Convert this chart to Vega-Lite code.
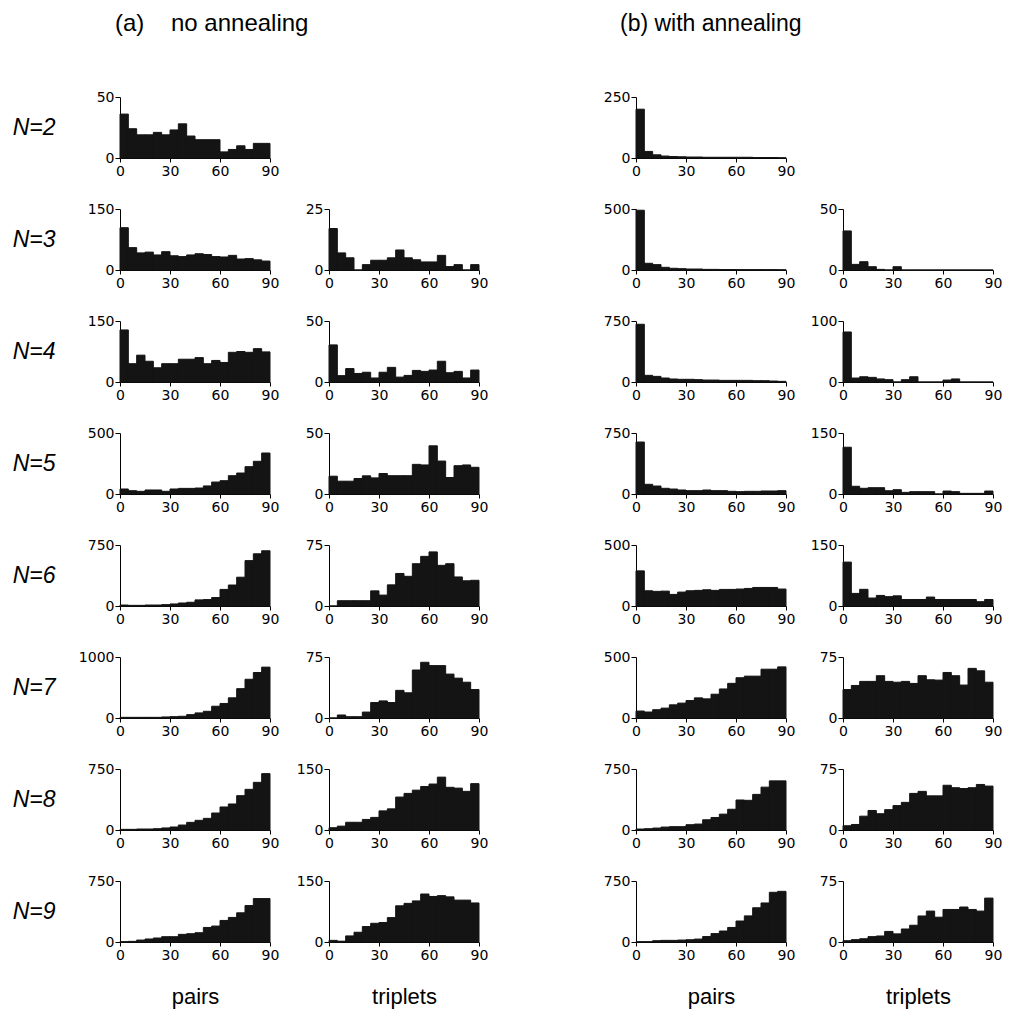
{
"$schema":"https://vega.github.io/schema/vega-lite/v6.json",
"padding":{"left":12,"top":12,"right":5,"bottom":5},
"background":"white",
"spacing":115,
"data":{"name":"h"},
"config":{
 "view":{"stroke":null},
 "axis":{"grid":false,"domainColor":"#000","tickColor":"#000","labelColor":"#000","titleColor":"#000","domainWidth":1,"tickWidth":1,"labelFont":"DejaVu Sans","labelFontSize":14,"labelFlush":false,"labelBound":false,"labelOverlap":false,"format":"d"},
 "axisX":{"tickSize":4,"labelPadding":2,"titleFont":"Liberation Sans","titleFontSize":22,"titleFontWeight":"normal","titlePadding":24},
 "axisY":{"tickSize":5,"labelPadding":1,"titleAngle":0,"titleX":-65,"titleY":30,"titleAlign":"right","titleBaseline":"middle","titleFont":"Liberation Sans","titleFontSize":23,"titleFontStyle":"italic","titleFontWeight":"normal"},
 "title":{"font":"Liberation Sans","fontSize":23,"fontWeight":"normal","anchor":"start","color":"#000","offset":54,"frame":"group"}
},
"datasets":{"h":[
{"p":"a2p","lo":0,"hi":5,"c":36},{"p":"a2p","lo":5,"hi":10,"c":24},{"p":"a2p","lo":10,"hi":15,"c":19},{"p":"a2p","lo":15,"hi":20,"c":19},{"p":"a2p","lo":20,"hi":25,"c":21},{"p":"a2p","lo":25,"hi":30,"c":19},{"p":"a2p","lo":30,"hi":35,"c":23},{"p":"a2p","lo":35,"hi":40,"c":28},{"p":"a2p","lo":40,"hi":45,"c":18},{"p":"a2p","lo":45,"hi":50,"c":15},{"p":"a2p","lo":50,"hi":55,"c":15},{"p":"a2p","lo":55,"hi":60,"c":15},{"p":"a2p","lo":60,"hi":65,"c":5},{"p":"a2p","lo":65,"hi":70,"c":7},{"p":"a2p","lo":70,"hi":75,"c":10},{"p":"a2p","lo":75,"hi":80,"c":7},{"p":"a2p","lo":80,"hi":85,"c":12},{"p":"a2p","lo":85,"hi":90,"c":12},
{"p":"a3p","lo":0,"hi":5,"c":104},{"p":"a3p","lo":5,"hi":10,"c":55},{"p":"a3p","lo":10,"hi":15,"c":42},{"p":"a3p","lo":15,"hi":20,"c":44},{"p":"a3p","lo":20,"hi":25,"c":37},{"p":"a3p","lo":25,"hi":30,"c":45},{"p":"a3p","lo":30,"hi":35,"c":35},{"p":"a3p","lo":35,"hi":40,"c":33},{"p":"a3p","lo":40,"hi":45,"c":37},{"p":"a3p","lo":45,"hi":50,"c":40},{"p":"a3p","lo":50,"hi":55,"c":38},{"p":"a3p","lo":55,"hi":60,"c":33},{"p":"a3p","lo":60,"hi":65,"c":32},{"p":"a3p","lo":65,"hi":70,"c":36},{"p":"a3p","lo":70,"hi":75,"c":27},{"p":"a3p","lo":75,"hi":80,"c":28},{"p":"a3p","lo":80,"hi":85,"c":25},{"p":"a3p","lo":85,"hi":90,"c":22},
{"p":"a4p","lo":0,"hi":5,"c":128},{"p":"a4p","lo":5,"hi":10,"c":45},{"p":"a4p","lo":10,"hi":15,"c":66},{"p":"a4p","lo":15,"hi":20,"c":51},{"p":"a4p","lo":20,"hi":25,"c":35},{"p":"a4p","lo":25,"hi":30,"c":45},{"p":"a4p","lo":30,"hi":35,"c":45},{"p":"a4p","lo":35,"hi":40,"c":56},{"p":"a4p","lo":40,"hi":45,"c":56},{"p":"a4p","lo":45,"hi":50,"c":60},{"p":"a4p","lo":50,"hi":55,"c":45},{"p":"a4p","lo":55,"hi":60,"c":53},{"p":"a4p","lo":60,"hi":65,"c":48},{"p":"a4p","lo":65,"hi":70,"c":73},{"p":"a4p","lo":70,"hi":75,"c":75},{"p":"a4p","lo":75,"hi":80,"c":73},{"p":"a4p","lo":80,"hi":85,"c":82},{"p":"a4p","lo":85,"hi":90,"c":74},
{"p":"a5p","lo":0,"hi":5,"c":41},{"p":"a5p","lo":5,"hi":10,"c":27},{"p":"a5p","lo":10,"hi":15,"c":22},{"p":"a5p","lo":15,"hi":20,"c":33},{"p":"a5p","lo":20,"hi":25,"c":33},{"p":"a5p","lo":25,"hi":30,"c":22},{"p":"a5p","lo":30,"hi":35,"c":41},{"p":"a5p","lo":35,"hi":40,"c":46},{"p":"a5p","lo":40,"hi":45,"c":46},{"p":"a5p","lo":45,"hi":50,"c":49},{"p":"a5p","lo":50,"hi":55,"c":66},{"p":"a5p","lo":55,"hi":60,"c":98},{"p":"a5p","lo":60,"hi":65,"c":109},{"p":"a5p","lo":65,"hi":70,"c":150},{"p":"a5p","lo":70,"hi":75,"c":172},{"p":"a5p","lo":75,"hi":80,"c":224},{"p":"a5p","lo":80,"hi":85,"c":268},{"p":"a5p","lo":85,"hi":90,"c":336},
{"p":"a6p","lo":0,"hi":5,"c":12},{"p":"a6p","lo":5,"hi":10,"c":8},{"p":"a6p","lo":10,"hi":15,"c":8},{"p":"a6p","lo":15,"hi":20,"c":12},{"p":"a6p","lo":20,"hi":25,"c":12},{"p":"a6p","lo":25,"hi":30,"c":17},{"p":"a6p","lo":30,"hi":35,"c":25},{"p":"a6p","lo":35,"hi":40,"c":37},{"p":"a6p","lo":40,"hi":45,"c":46},{"p":"a6p","lo":45,"hi":50,"c":75},{"p":"a6p","lo":50,"hi":55,"c":79},{"p":"a6p","lo":55,"hi":60,"c":104},{"p":"a6p","lo":60,"hi":65,"c":204},{"p":"a6p","lo":65,"hi":70,"c":258},{"p":"a6p","lo":70,"hi":75,"c":354},{"p":"a6p","lo":75,"hi":80,"c":558},{"p":"a6p","lo":80,"hi":85,"c":642},{"p":"a6p","lo":85,"hi":90,"c":679},
{"p":"a7p","lo":0,"hi":5,"c":11},{"p":"a7p","lo":5,"hi":10,"c":11},{"p":"a7p","lo":10,"hi":15,"c":11},{"p":"a7p","lo":15,"hi":20,"c":11},{"p":"a7p","lo":20,"hi":25,"c":11},{"p":"a7p","lo":25,"hi":30,"c":17},{"p":"a7p","lo":30,"hi":35,"c":22},{"p":"a7p","lo":35,"hi":40,"c":28},{"p":"a7p","lo":40,"hi":45,"c":55},{"p":"a7p","lo":45,"hi":50,"c":83},{"p":"a7p","lo":50,"hi":55,"c":110},{"p":"a7p","lo":55,"hi":60,"c":193},{"p":"a7p","lo":60,"hi":65,"c":238},{"p":"a7p","lo":65,"hi":70,"c":331},{"p":"a7p","lo":70,"hi":75,"c":481},{"p":"a7p","lo":75,"hi":80,"c":635},{"p":"a7p","lo":80,"hi":85,"c":746},{"p":"a7p","lo":85,"hi":90,"c":834},
{"p":"a8p","lo":0,"hi":5,"c":8},{"p":"a8p","lo":5,"hi":10,"c":8},{"p":"a8p","lo":10,"hi":15,"c":12},{"p":"a8p","lo":15,"hi":20,"c":12},{"p":"a8p","lo":20,"hi":25,"c":16},{"p":"a8p","lo":25,"hi":30,"c":25},{"p":"a8p","lo":30,"hi":35,"c":37},{"p":"a8p","lo":35,"hi":40,"c":61},{"p":"a8p","lo":40,"hi":45,"c":94},{"p":"a8p","lo":45,"hi":50,"c":119},{"p":"a8p","lo":50,"hi":55,"c":143},{"p":"a8p","lo":55,"hi":60,"c":209},{"p":"a8p","lo":60,"hi":65,"c":283},{"p":"a8p","lo":65,"hi":70,"c":320},{"p":"a8p","lo":70,"hi":75,"c":422},{"p":"a8p","lo":75,"hi":80,"c":500},{"p":"a8p","lo":80,"hi":85,"c":586},{"p":"a8p","lo":85,"hi":90,"c":693},
{"p":"a9p","lo":0,"hi":5,"c":4},{"p":"a9p","lo":5,"hi":10,"c":8},{"p":"a9p","lo":10,"hi":15,"c":24},{"p":"a9p","lo":15,"hi":20,"c":37},{"p":"a9p","lo":20,"hi":25,"c":49},{"p":"a9p","lo":25,"hi":30,"c":65},{"p":"a9p","lo":30,"hi":35,"c":65},{"p":"a9p","lo":35,"hi":40,"c":94},{"p":"a9p","lo":40,"hi":45,"c":102},{"p":"a9p","lo":45,"hi":50,"c":114},{"p":"a9p","lo":50,"hi":55,"c":179},{"p":"a9p","lo":55,"hi":60,"c":196},{"p":"a9p","lo":60,"hi":65,"c":265},{"p":"a9p","lo":65,"hi":70,"c":302},{"p":"a9p","lo":70,"hi":75,"c":359},{"p":"a9p","lo":75,"hi":80,"c":448},{"p":"a9p","lo":80,"hi":85,"c":534},{"p":"a9p","lo":85,"hi":90,"c":534},
{"p":"a3t","lo":0,"hi":5,"c":17},{"p":"a3t","lo":5,"hi":10,"c":7},{"p":"a3t","lo":10,"hi":15,"c":5},{"p":"a3t","lo":15,"hi":20,"c":0},{"p":"a3t","lo":20,"hi":25,"c":2.2},{"p":"a3t","lo":25,"hi":30,"c":4},{"p":"a3t","lo":30,"hi":35,"c":4},{"p":"a3t","lo":35,"hi":40,"c":5},{"p":"a3t","lo":40,"hi":45,"c":8.2},{"p":"a3t","lo":45,"hi":50,"c":5},{"p":"a3t","lo":50,"hi":55,"c":4.2},{"p":"a3t","lo":55,"hi":60,"c":3.3},{"p":"a3t","lo":60,"hi":65,"c":3.3},{"p":"a3t","lo":65,"hi":70,"c":6},{"p":"a3t","lo":70,"hi":75,"c":1.4},{"p":"a3t","lo":75,"hi":80,"c":2.2},{"p":"a3t","lo":80,"hi":85,"c":0},{"p":"a3t","lo":85,"hi":90,"c":2.2},
{"p":"a4t","lo":0,"hi":5,"c":30.4},{"p":"a4t","lo":5,"hi":10,"c":5.2},{"p":"a4t","lo":10,"hi":15,"c":11},{"p":"a4t","lo":15,"hi":20,"c":7},{"p":"a4t","lo":20,"hi":25,"c":8},{"p":"a4t","lo":25,"hi":30,"c":3.3},{"p":"a4t","lo":30,"hi":35,"c":8},{"p":"a4t","lo":35,"hi":40,"c":12},{"p":"a4t","lo":40,"hi":45,"c":4},{"p":"a4t","lo":45,"hi":50,"c":5.4},{"p":"a4t","lo":50,"hi":55,"c":9.5},{"p":"a4t","lo":55,"hi":60,"c":8.7},{"p":"a4t","lo":60,"hi":65,"c":9.8},{"p":"a4t","lo":65,"hi":70,"c":17},{"p":"a4t","lo":70,"hi":75,"c":7.6},{"p":"a4t","lo":75,"hi":80,"c":8.7},{"p":"a4t","lo":80,"hi":85,"c":3.3},{"p":"a4t","lo":85,"hi":90,"c":9.8},
{"p":"a5t","lo":0,"hi":5,"c":14.6},{"p":"a5t","lo":5,"hi":10,"c":10.5},{"p":"a5t","lo":10,"hi":15,"c":10.5},{"p":"a5t","lo":15,"hi":20,"c":12.7},{"p":"a5t","lo":20,"hi":25,"c":14.9},{"p":"a5t","lo":25,"hi":30,"c":13.2},{"p":"a5t","lo":30,"hi":35,"c":16.8},{"p":"a5t","lo":35,"hi":40,"c":15},{"p":"a5t","lo":40,"hi":45,"c":15},{"p":"a5t","lo":45,"hi":50,"c":15},{"p":"a5t","lo":50,"hi":55,"c":24.3},{"p":"a5t","lo":55,"hi":60,"c":23.8},{"p":"a5t","lo":60,"hi":65,"c":39.5},{"p":"a5t","lo":65,"hi":70,"c":27},{"p":"a5t","lo":70,"hi":75,"c":13.5},{"p":"a5t","lo":75,"hi":80,"c":23.2},{"p":"a5t","lo":80,"hi":85,"c":23.8},{"p":"a5t","lo":85,"hi":90,"c":21.9},
{"p":"a6t","lo":0,"hi":5,"c":0},{"p":"a6t","lo":5,"hi":10,"c":6.5},{"p":"a6t","lo":10,"hi":15,"c":6.5},{"p":"a6t","lo":15,"hi":20,"c":6.5},{"p":"a6t","lo":20,"hi":25,"c":6.5},{"p":"a6t","lo":25,"hi":30,"c":18.6},{"p":"a6t","lo":30,"hi":35,"c":13.4},{"p":"a6t","lo":35,"hi":40,"c":26},{"p":"a6t","lo":40,"hi":45,"c":40},{"p":"a6t","lo":45,"hi":50,"c":36.5},{"p":"a6t","lo":50,"hi":55,"c":52},{"p":"a6t","lo":55,"hi":60,"c":61},{"p":"a6t","lo":60,"hi":65,"c":66.5},{"p":"a6t","lo":65,"hi":70,"c":50},{"p":"a6t","lo":70,"hi":75,"c":52},{"p":"a6t","lo":75,"hi":80,"c":35.7},{"p":"a6t","lo":80,"hi":85,"c":31},{"p":"a6t","lo":85,"hi":90,"c":31.6},
{"p":"a7t","lo":0,"hi":5,"c":0},{"p":"a7t","lo":5,"hi":10,"c":3.7},{"p":"a7t","lo":10,"hi":15,"c":1.6},{"p":"a7t","lo":15,"hi":20,"c":1.6},{"p":"a7t","lo":20,"hi":25,"c":7.3},{"p":"a7t","lo":25,"hi":30,"c":19},{"p":"a7t","lo":30,"hi":35,"c":21},{"p":"a7t","lo":35,"hi":40,"c":19},{"p":"a7t","lo":40,"hi":45,"c":34},{"p":"a7t","lo":45,"hi":50,"c":31},{"p":"a7t","lo":50,"hi":55,"c":59},{"p":"a7t","lo":55,"hi":60,"c":68.5},{"p":"a7t","lo":60,"hi":65,"c":64.4},{"p":"a7t","lo":65,"hi":70,"c":64.4},{"p":"a7t","lo":70,"hi":75,"c":54},{"p":"a7t","lo":75,"hi":80,"c":49},{"p":"a7t","lo":80,"hi":85,"c":44},{"p":"a7t","lo":85,"hi":90,"c":35},
{"p":"a8t","lo":0,"hi":5,"c":5.6},{"p":"a8t","lo":5,"hi":10,"c":9.5},{"p":"a8t","lo":10,"hi":15,"c":19},{"p":"a8t","lo":15,"hi":20,"c":19},{"p":"a8t","lo":20,"hi":25,"c":26},{"p":"a8t","lo":25,"hi":30,"c":31},{"p":"a8t","lo":30,"hi":35,"c":47},{"p":"a8t","lo":35,"hi":40,"c":52},{"p":"a8t","lo":40,"hi":45,"c":81},{"p":"a8t","lo":45,"hi":50,"c":90},{"p":"a8t","lo":50,"hi":55,"c":98},{"p":"a8t","lo":55,"hi":60,"c":107},{"p":"a8t","lo":60,"hi":65,"c":113},{"p":"a8t","lo":65,"hi":70,"c":130},{"p":"a8t","lo":70,"hi":75,"c":105},{"p":"a8t","lo":75,"hi":80,"c":103},{"p":"a8t","lo":80,"hi":85,"c":95},{"p":"a8t","lo":85,"hi":90,"c":114},
{"p":"a9t","lo":0,"hi":5,"c":4},{"p":"a9t","lo":5,"hi":10,"c":2},{"p":"a9t","lo":10,"hi":15,"c":15},{"p":"a9t","lo":15,"hi":20,"c":24},{"p":"a9t","lo":20,"hi":25,"c":38},{"p":"a9t","lo":25,"hi":30,"c":46},{"p":"a9t","lo":30,"hi":35,"c":48},{"p":"a9t","lo":35,"hi":40,"c":60},{"p":"a9t","lo":40,"hi":45,"c":89},{"p":"a9t","lo":45,"hi":50,"c":95},{"p":"a9t","lo":50,"hi":55,"c":101},{"p":"a9t","lo":55,"hi":60,"c":118},{"p":"a9t","lo":60,"hi":65,"c":112},{"p":"a9t","lo":65,"hi":70,"c":114},{"p":"a9t","lo":70,"hi":75,"c":111},{"p":"a9t","lo":75,"hi":80,"c":103},{"p":"a9t","lo":80,"hi":85,"c":103},{"p":"a9t","lo":85,"hi":90,"c":96},
{"p":"b2p","lo":0,"hi":5,"c":200},{"p":"b2p","lo":5,"hi":10,"c":27},{"p":"b2p","lo":10,"hi":15,"c":13},{"p":"b2p","lo":15,"hi":20,"c":8},{"p":"b2p","lo":20,"hi":25,"c":6},{"p":"b2p","lo":25,"hi":30,"c":5},{"p":"b2p","lo":30,"hi":35,"c":4},{"p":"b2p","lo":35,"hi":40,"c":4},{"p":"b2p","lo":40,"hi":45,"c":3},{"p":"b2p","lo":45,"hi":50,"c":3},{"p":"b2p","lo":50,"hi":55,"c":3},{"p":"b2p","lo":55,"hi":60,"c":3},{"p":"b2p","lo":60,"hi":65,"c":3},{"p":"b2p","lo":65,"hi":70,"c":3},{"p":"b2p","lo":70,"hi":75,"c":2},{"p":"b2p","lo":75,"hi":80,"c":2},{"p":"b2p","lo":80,"hi":85,"c":2},{"p":"b2p","lo":85,"hi":90,"c":1},
{"p":"b3p","lo":0,"hi":5,"c":490},{"p":"b3p","lo":5,"hi":10,"c":55},{"p":"b3p","lo":10,"hi":15,"c":44},{"p":"b3p","lo":15,"hi":20,"c":22},{"p":"b3p","lo":20,"hi":25,"c":14},{"p":"b3p","lo":25,"hi":30,"c":11},{"p":"b3p","lo":30,"hi":35,"c":8},{"p":"b3p","lo":35,"hi":40,"c":8},{"p":"b3p","lo":40,"hi":45,"c":5},{"p":"b3p","lo":45,"hi":50,"c":5},{"p":"b3p","lo":50,"hi":55,"c":4},{"p":"b3p","lo":55,"hi":60,"c":4},{"p":"b3p","lo":60,"hi":65,"c":3},{"p":"b3p","lo":65,"hi":70,"c":3},{"p":"b3p","lo":70,"hi":75,"c":3},{"p":"b3p","lo":75,"hi":80,"c":3},{"p":"b3p","lo":80,"hi":85,"c":3},{"p":"b3p","lo":85,"hi":90,"c":2},
{"p":"b4p","lo":0,"hi":5,"c":710},{"p":"b4p","lo":5,"hi":10,"c":82},{"p":"b4p","lo":10,"hi":15,"c":69},{"p":"b4p","lo":15,"hi":20,"c":49},{"p":"b4p","lo":20,"hi":25,"c":37},{"p":"b4p","lo":25,"hi":30,"c":33},{"p":"b4p","lo":30,"hi":35,"c":33},{"p":"b4p","lo":35,"hi":40,"c":29},{"p":"b4p","lo":40,"hi":45,"c":24},{"p":"b4p","lo":45,"hi":50,"c":24},{"p":"b4p","lo":50,"hi":55,"c":20},{"p":"b4p","lo":55,"hi":60,"c":20},{"p":"b4p","lo":60,"hi":65,"c":20},{"p":"b4p","lo":65,"hi":70,"c":20},{"p":"b4p","lo":70,"hi":75,"c":16},{"p":"b4p","lo":75,"hi":80,"c":16},{"p":"b4p","lo":80,"hi":85,"c":12},{"p":"b4p","lo":85,"hi":90,"c":8},
{"p":"b5p","lo":0,"hi":5,"c":639},{"p":"b5p","lo":5,"hi":10,"c":119},{"p":"b5p","lo":10,"hi":15,"c":98},{"p":"b5p","lo":15,"hi":20,"c":70},{"p":"b5p","lo":20,"hi":25,"c":61},{"p":"b5p","lo":25,"hi":30,"c":49},{"p":"b5p","lo":30,"hi":35,"c":41},{"p":"b5p","lo":35,"hi":40,"c":41},{"p":"b5p","lo":40,"hi":45,"c":49},{"p":"b5p","lo":45,"hi":50,"c":41},{"p":"b5p","lo":50,"hi":55,"c":41},{"p":"b5p","lo":55,"hi":60,"c":33},{"p":"b5p","lo":60,"hi":65,"c":29},{"p":"b5p","lo":65,"hi":70,"c":33},{"p":"b5p","lo":70,"hi":75,"c":33},{"p":"b5p","lo":75,"hi":80,"c":37},{"p":"b5p","lo":80,"hi":85,"c":37},{"p":"b5p","lo":85,"hi":90,"c":41},
{"p":"b6p","lo":0,"hi":5,"c":288},{"p":"b6p","lo":5,"hi":10,"c":125},{"p":"b6p","lo":10,"hi":15,"c":120},{"p":"b6p","lo":15,"hi":20,"c":122},{"p":"b6p","lo":20,"hi":25,"c":95},{"p":"b6p","lo":25,"hi":30,"c":114},{"p":"b6p","lo":30,"hi":35,"c":125},{"p":"b6p","lo":35,"hi":40,"c":128},{"p":"b6p","lo":40,"hi":45,"c":133},{"p":"b6p","lo":45,"hi":50,"c":128},{"p":"b6p","lo":50,"hi":55,"c":136},{"p":"b6p","lo":55,"hi":60,"c":136},{"p":"b6p","lo":60,"hi":65,"c":139},{"p":"b6p","lo":65,"hi":70,"c":144},{"p":"b6p","lo":70,"hi":75,"c":152},{"p":"b6p","lo":75,"hi":80,"c":152},{"p":"b6p","lo":80,"hi":85,"c":152},{"p":"b6p","lo":85,"hi":90,"c":139},
{"p":"b7p","lo":0,"hi":5,"c":57},{"p":"b7p","lo":5,"hi":10,"c":49},{"p":"b7p","lo":10,"hi":15,"c":68},{"p":"b7p","lo":15,"hi":20,"c":81},{"p":"b7p","lo":20,"hi":25,"c":108},{"p":"b7p","lo":25,"hi":30,"c":122},{"p":"b7p","lo":30,"hi":35,"c":143},{"p":"b7p","lo":35,"hi":40,"c":165},{"p":"b7p","lo":40,"hi":45,"c":157},{"p":"b7p","lo":45,"hi":50,"c":195},{"p":"b7p","lo":50,"hi":55,"c":238},{"p":"b7p","lo":55,"hi":60,"c":284},{"p":"b7p","lo":60,"hi":65,"c":330},{"p":"b7p","lo":65,"hi":70,"c":343},{"p":"b7p","lo":70,"hi":75,"c":343},{"p":"b7p","lo":75,"hi":80,"c":400},{"p":"b7p","lo":80,"hi":85,"c":400},{"p":"b7p","lo":85,"hi":90,"c":419},
{"p":"b8p","lo":0,"hi":5,"c":12},{"p":"b8p","lo":5,"hi":10,"c":16},{"p":"b8p","lo":10,"hi":15,"c":24},{"p":"b8p","lo":15,"hi":20,"c":36},{"p":"b8p","lo":20,"hi":25,"c":41},{"p":"b8p","lo":25,"hi":30,"c":41},{"p":"b8p","lo":30,"hi":35,"c":65},{"p":"b8p","lo":35,"hi":40,"c":73},{"p":"b8p","lo":40,"hi":45,"c":126},{"p":"b8p","lo":45,"hi":50,"c":154},{"p":"b8p","lo":50,"hi":55,"c":195},{"p":"b8p","lo":55,"hi":60,"c":255},{"p":"b8p","lo":60,"hi":65,"c":369},{"p":"b8p","lo":65,"hi":70,"c":365},{"p":"b8p","lo":70,"hi":75,"c":438},{"p":"b8p","lo":75,"hi":80,"c":527},{"p":"b8p","lo":80,"hi":85,"c":604},{"p":"b8p","lo":85,"hi":90,"c":604},
{"p":"b9p","lo":0,"hi":5,"c":4},{"p":"b9p","lo":5,"hi":10,"c":4},{"p":"b9p","lo":10,"hi":15,"c":16},{"p":"b9p","lo":15,"hi":20,"c":20},{"p":"b9p","lo":20,"hi":25,"c":20},{"p":"b9p","lo":25,"hi":30,"c":24},{"p":"b9p","lo":30,"hi":35,"c":28},{"p":"b9p","lo":35,"hi":40,"c":36},{"p":"b9p","lo":40,"hi":45,"c":67},{"p":"b9p","lo":45,"hi":50,"c":103},{"p":"b9p","lo":50,"hi":55,"c":135},{"p":"b9p","lo":55,"hi":60,"c":179},{"p":"b9p","lo":60,"hi":65,"c":258},{"p":"b9p","lo":65,"hi":70,"c":321},{"p":"b9p","lo":70,"hi":75,"c":421},{"p":"b9p","lo":75,"hi":80,"c":480},{"p":"b9p","lo":80,"hi":85,"c":611},{"p":"b9p","lo":85,"hi":90,"c":623},
{"p":"b3t","lo":0,"hi":5,"c":32},{"p":"b3t","lo":5,"hi":10,"c":4.6},{"p":"b3t","lo":10,"hi":15,"c":6.8},{"p":"b3t","lo":15,"hi":20,"c":2.7},{"p":"b3t","lo":20,"hi":25,"c":0.5},{"p":"b3t","lo":25,"hi":30,"c":0},{"p":"b3t","lo":30,"hi":35,"c":2.7},{"p":"b3t","lo":35,"hi":40,"c":0},{"p":"b3t","lo":40,"hi":45,"c":0},{"p":"b3t","lo":45,"hi":50,"c":0},{"p":"b3t","lo":50,"hi":55,"c":0},{"p":"b3t","lo":55,"hi":60,"c":0},{"p":"b3t","lo":60,"hi":65,"c":0},{"p":"b3t","lo":65,"hi":70,"c":0},{"p":"b3t","lo":70,"hi":75,"c":0},{"p":"b3t","lo":75,"hi":80,"c":0},{"p":"b3t","lo":80,"hi":85,"c":0},{"p":"b3t","lo":85,"hi":90,"c":0},
{"p":"b4t","lo":0,"hi":5,"c":82},{"p":"b4t","lo":5,"hi":10,"c":6.5},{"p":"b4t","lo":10,"hi":15,"c":8.6},{"p":"b4t","lo":15,"hi":20,"c":7.6},{"p":"b4t","lo":20,"hi":25,"c":5},{"p":"b4t","lo":25,"hi":30,"c":3.8},{"p":"b4t","lo":30,"hi":35,"c":0},{"p":"b4t","lo":35,"hi":40,"c":3.8},{"p":"b4t","lo":40,"hi":45,"c":8.6},{"p":"b4t","lo":45,"hi":50,"c":0},{"p":"b4t","lo":50,"hi":55,"c":0},{"p":"b4t","lo":55,"hi":60,"c":0},{"p":"b4t","lo":60,"hi":65,"c":3.2},{"p":"b4t","lo":65,"hi":70,"c":5},{"p":"b4t","lo":70,"hi":75,"c":0},{"p":"b4t","lo":75,"hi":80,"c":0},{"p":"b4t","lo":80,"hi":85,"c":0},{"p":"b4t","lo":85,"hi":90,"c":0},
{"p":"b5t","lo":0,"hi":5,"c":115},{"p":"b5t","lo":5,"hi":10,"c":19},{"p":"b5t","lo":10,"hi":15,"c":14},{"p":"b5t","lo":15,"hi":20,"c":15.5},{"p":"b5t","lo":20,"hi":25,"c":15.5},{"p":"b5t","lo":25,"hi":30,"c":8},{"p":"b5t","lo":30,"hi":35,"c":10.6},{"p":"b5t","lo":35,"hi":40,"c":4},{"p":"b5t","lo":40,"hi":45,"c":5.7},{"p":"b5t","lo":45,"hi":50,"c":5.7},{"p":"b5t","lo":50,"hi":55,"c":5.7},{"p":"b5t","lo":55,"hi":60,"c":0},{"p":"b5t","lo":60,"hi":65,"c":7.3},{"p":"b5t","lo":65,"hi":70,"c":5.7},{"p":"b5t","lo":70,"hi":75,"c":1.6},{"p":"b5t","lo":75,"hi":80,"c":1.6},{"p":"b5t","lo":80,"hi":85,"c":1.6},{"p":"b5t","lo":85,"hi":90,"c":7.3},
{"p":"b6t","lo":0,"hi":5,"c":108},{"p":"b6t","lo":5,"hi":10,"c":31},{"p":"b6t","lo":10,"hi":15,"c":41},{"p":"b6t","lo":15,"hi":20,"c":19.6},{"p":"b6t","lo":20,"hi":25,"c":26},{"p":"b6t","lo":25,"hi":30,"c":23},{"p":"b6t","lo":30,"hi":35,"c":25},{"p":"b6t","lo":35,"hi":40,"c":16},{"p":"b6t","lo":40,"hi":45,"c":16},{"p":"b6t","lo":45,"hi":50,"c":16},{"p":"b6t","lo":50,"hi":55,"c":22},{"p":"b6t","lo":55,"hi":60,"c":16},{"p":"b6t","lo":60,"hi":65,"c":16},{"p":"b6t","lo":65,"hi":70,"c":16},{"p":"b6t","lo":70,"hi":75,"c":16},{"p":"b6t","lo":75,"hi":80,"c":16},{"p":"b6t","lo":80,"hi":85,"c":10.6},{"p":"b6t","lo":85,"hi":90,"c":16},
{"p":"b7t","lo":0,"hi":5,"c":35},{"p":"b7t","lo":5,"hi":10,"c":40},{"p":"b7t","lo":10,"hi":15,"c":45},{"p":"b7t","lo":15,"hi":20,"c":45},{"p":"b7t","lo":20,"hi":25,"c":52},{"p":"b7t","lo":25,"hi":30,"c":45},{"p":"b7t","lo":30,"hi":35,"c":44},{"p":"b7t","lo":35,"hi":40,"c":45},{"p":"b7t","lo":40,"hi":45,"c":42.5},{"p":"b7t","lo":45,"hi":50,"c":52},{"p":"b7t","lo":50,"hi":55,"c":47},{"p":"b7t","lo":55,"hi":60,"c":46.6},{"p":"b7t","lo":60,"hi":65,"c":56},{"p":"b7t","lo":65,"hi":70,"c":52},{"p":"b7t","lo":70,"hi":75,"c":40.5},{"p":"b7t","lo":75,"hi":80,"c":61},{"p":"b7t","lo":80,"hi":85,"c":58},{"p":"b7t","lo":85,"hi":90,"c":44},
{"p":"b8t","lo":0,"hi":5,"c":5.2},{"p":"b8t","lo":5,"hi":10,"c":6.8},{"p":"b8t","lo":10,"hi":15,"c":17},{"p":"b8t","lo":15,"hi":20,"c":24},{"p":"b8t","lo":20,"hi":25,"c":20},{"p":"b8t","lo":25,"hi":30,"c":25},{"p":"b8t","lo":30,"hi":35,"c":30},{"p":"b8t","lo":35,"hi":40,"c":34},{"p":"b8t","lo":40,"hi":45,"c":45},{"p":"b8t","lo":45,"hi":50,"c":47.5},{"p":"b8t","lo":50,"hi":55,"c":42},{"p":"b8t","lo":55,"hi":60,"c":42},{"p":"b8t","lo":60,"hi":65,"c":55},{"p":"b8t","lo":65,"hi":70,"c":52},{"p":"b8t","lo":70,"hi":75,"c":51},{"p":"b8t","lo":75,"hi":80,"c":52},{"p":"b8t","lo":80,"hi":85,"c":56},{"p":"b8t","lo":85,"hi":90,"c":54},
{"p":"b9t","lo":0,"hi":5,"c":1.6},{"p":"b9t","lo":5,"hi":10,"c":2.9},{"p":"b9t","lo":10,"hi":15,"c":4},{"p":"b9t","lo":15,"hi":20,"c":6.6},{"p":"b9t","lo":20,"hi":25,"c":7.4},{"p":"b9t","lo":25,"hi":30,"c":13},{"p":"b9t","lo":30,"hi":35,"c":10},{"p":"b9t","lo":35,"hi":40,"c":16},{"p":"b9t","lo":40,"hi":45,"c":20.6},{"p":"b9t","lo":45,"hi":50,"c":32},{"p":"b9t","lo":50,"hi":55,"c":38},{"p":"b9t","lo":55,"hi":60,"c":30.5},{"p":"b9t","lo":60,"hi":65,"c":40},{"p":"b9t","lo":65,"hi":70,"c":40},{"p":"b9t","lo":70,"hi":75,"c":43},{"p":"b9t","lo":75,"hi":80,"c":40},{"p":"b9t","lo":80,"hi":85,"c":38},{"p":"b9t","lo":85,"hi":90,"c":54}
]},
"hconcat":[
{"title":{"text":"(a)\u00a0\u00a0\u00a0 no annealing","dx":-5,"fontSize":24},"columns":2,"bounds":"flush","spacing":{"column":59,"row":51},
"concat":[
{"width":150,"height":61,"transform":[{"filter":"datum.p=='a2p'"}],"mark":{"type":"rect","color":"#141414","stroke":"#141414","strokeWidth":1},"encoding":{"x":{"field":"lo","type":"quantitative","scale":{"domain":[0,90],"nice":false},"axis":{"values":[0,30,60,90],"title":null}},"x2":{"field":"hi"},"y":{"field":"c","type":"quantitative","scale":{"domain":[0,50],"nice":false},"axis":{"values":[0,50],"title":"N=2"}},"y2":{"datum":0}}},
{"width":150,"height":61,"data":{"values":[]},"mark":{"type":"point"},"encoding":{}},
{"width":150,"height":61,"transform":[{"filter":"datum.p=='a3p'"}],"mark":{"type":"rect","color":"#141414","stroke":"#141414","strokeWidth":1},"encoding":{"x":{"field":"lo","type":"quantitative","scale":{"domain":[0,90],"nice":false},"axis":{"values":[0,30,60,90],"title":null}},"x2":{"field":"hi"},"y":{"field":"c","type":"quantitative","scale":{"domain":[0,150],"nice":false},"axis":{"values":[0,150],"title":"N=3"}},"y2":{"datum":0}}},
{"width":150,"height":61,"transform":[{"filter":"datum.p=='a3t'"}],"mark":{"type":"rect","color":"#141414","stroke":"#141414","strokeWidth":1},"encoding":{"x":{"field":"lo","type":"quantitative","scale":{"domain":[0,90],"nice":false},"axis":{"values":[0,30,60,90],"title":null}},"x2":{"field":"hi"},"y":{"field":"c","type":"quantitative","scale":{"domain":[0,25],"nice":false},"axis":{"values":[0,25],"title":null}},"y2":{"datum":0}}},
{"width":150,"height":61,"transform":[{"filter":"datum.p=='a4p'"}],"mark":{"type":"rect","color":"#141414","stroke":"#141414","strokeWidth":1},"encoding":{"x":{"field":"lo","type":"quantitative","scale":{"domain":[0,90],"nice":false},"axis":{"values":[0,30,60,90],"title":null}},"x2":{"field":"hi"},"y":{"field":"c","type":"quantitative","scale":{"domain":[0,150],"nice":false},"axis":{"values":[0,150],"title":"N=4"}},"y2":{"datum":0}}},
{"width":150,"height":61,"transform":[{"filter":"datum.p=='a4t'"}],"mark":{"type":"rect","color":"#141414","stroke":"#141414","strokeWidth":1},"encoding":{"x":{"field":"lo","type":"quantitative","scale":{"domain":[0,90],"nice":false},"axis":{"values":[0,30,60,90],"title":null}},"x2":{"field":"hi"},"y":{"field":"c","type":"quantitative","scale":{"domain":[0,50],"nice":false},"axis":{"values":[0,50],"title":null}},"y2":{"datum":0}}},
{"width":150,"height":61,"transform":[{"filter":"datum.p=='a5p'"}],"mark":{"type":"rect","color":"#141414","stroke":"#141414","strokeWidth":1},"encoding":{"x":{"field":"lo","type":"quantitative","scale":{"domain":[0,90],"nice":false},"axis":{"values":[0,30,60,90],"title":null}},"x2":{"field":"hi"},"y":{"field":"c","type":"quantitative","scale":{"domain":[0,500],"nice":false},"axis":{"values":[0,500],"title":"N=5"}},"y2":{"datum":0}}},
{"width":150,"height":61,"transform":[{"filter":"datum.p=='a5t'"}],"mark":{"type":"rect","color":"#141414","stroke":"#141414","strokeWidth":1},"encoding":{"x":{"field":"lo","type":"quantitative","scale":{"domain":[0,90],"nice":false},"axis":{"values":[0,30,60,90],"title":null}},"x2":{"field":"hi"},"y":{"field":"c","type":"quantitative","scale":{"domain":[0,50],"nice":false},"axis":{"values":[0,50],"title":null}},"y2":{"datum":0}}},
{"width":150,"height":61,"transform":[{"filter":"datum.p=='a6p'"}],"mark":{"type":"rect","color":"#141414","stroke":"#141414","strokeWidth":1},"encoding":{"x":{"field":"lo","type":"quantitative","scale":{"domain":[0,90],"nice":false},"axis":{"values":[0,30,60,90],"title":null}},"x2":{"field":"hi"},"y":{"field":"c","type":"quantitative","scale":{"domain":[0,750],"nice":false},"axis":{"values":[0,750],"title":"N=6"}},"y2":{"datum":0}}},
{"width":150,"height":61,"transform":[{"filter":"datum.p=='a6t'"}],"mark":{"type":"rect","color":"#141414","stroke":"#141414","strokeWidth":1},"encoding":{"x":{"field":"lo","type":"quantitative","scale":{"domain":[0,90],"nice":false},"axis":{"values":[0,30,60,90],"title":null}},"x2":{"field":"hi"},"y":{"field":"c","type":"quantitative","scale":{"domain":[0,75],"nice":false},"axis":{"values":[0,75],"title":null}},"y2":{"datum":0}}},
{"width":150,"height":61,"transform":[{"filter":"datum.p=='a7p'"}],"mark":{"type":"rect","color":"#141414","stroke":"#141414","strokeWidth":1},"encoding":{"x":{"field":"lo","type":"quantitative","scale":{"domain":[0,90],"nice":false},"axis":{"values":[0,30,60,90],"title":null}},"x2":{"field":"hi"},"y":{"field":"c","type":"quantitative","scale":{"domain":[0,1000],"nice":false},"axis":{"values":[0,1000],"title":"N=7"}},"y2":{"datum":0}}},
{"width":150,"height":61,"transform":[{"filter":"datum.p=='a7t'"}],"mark":{"type":"rect","color":"#141414","stroke":"#141414","strokeWidth":1},"encoding":{"x":{"field":"lo","type":"quantitative","scale":{"domain":[0,90],"nice":false},"axis":{"values":[0,30,60,90],"title":null}},"x2":{"field":"hi"},"y":{"field":"c","type":"quantitative","scale":{"domain":[0,75],"nice":false},"axis":{"values":[0,75],"title":null}},"y2":{"datum":0}}},
{"width":150,"height":61,"transform":[{"filter":"datum.p=='a8p'"}],"mark":{"type":"rect","color":"#141414","stroke":"#141414","strokeWidth":1},"encoding":{"x":{"field":"lo","type":"quantitative","scale":{"domain":[0,90],"nice":false},"axis":{"values":[0,30,60,90],"title":null}},"x2":{"field":"hi"},"y":{"field":"c","type":"quantitative","scale":{"domain":[0,750],"nice":false},"axis":{"values":[0,750],"title":"N=8"}},"y2":{"datum":0}}},
{"width":150,"height":61,"transform":[{"filter":"datum.p=='a8t'"}],"mark":{"type":"rect","color":"#141414","stroke":"#141414","strokeWidth":1},"encoding":{"x":{"field":"lo","type":"quantitative","scale":{"domain":[0,90],"nice":false},"axis":{"values":[0,30,60,90],"title":null}},"x2":{"field":"hi"},"y":{"field":"c","type":"quantitative","scale":{"domain":[0,150],"nice":false},"axis":{"values":[0,150],"title":null}},"y2":{"datum":0}}},
{"width":150,"height":61,"transform":[{"filter":"datum.p=='a9p'"}],"mark":{"type":"rect","color":"#141414","stroke":"#141414","strokeWidth":1},"encoding":{"x":{"field":"lo","type":"quantitative","scale":{"domain":[0,90],"nice":false},"axis":{"values":[0,30,60,90],"title":"pairs"}},"x2":{"field":"hi"},"y":{"field":"c","type":"quantitative","scale":{"domain":[0,750],"nice":false},"axis":{"values":[0,750],"title":"N=9"}},"y2":{"datum":0}}},
{"width":150,"height":61,"transform":[{"filter":"datum.p=='a9t'"}],"mark":{"type":"rect","color":"#141414","stroke":"#141414","strokeWidth":1},"encoding":{"x":{"field":"lo","type":"quantitative","scale":{"domain":[0,90],"nice":false},"axis":{"values":[0,30,60,90],"title":"triplets"}},"x2":{"field":"hi"},"y":{"field":"c","type":"quantitative","scale":{"domain":[0,150],"nice":false},"axis":{"values":[0,150],"title":null}},"y2":{"datum":0}}}
]},
{"title":{"text":"(b) with annealing","dx":-16},"columns":2,"bounds":"flush","spacing":{"column":57,"row":51},
"concat":[
{"width":150,"height":61,"transform":[{"filter":"datum.p=='b2p'"}],"mark":{"type":"rect","color":"#141414","stroke":"#141414","strokeWidth":1},"encoding":{"x":{"field":"lo","type":"quantitative","scale":{"domain":[0,90],"nice":false},"axis":{"values":[0,30,60,90],"title":null}},"x2":{"field":"hi"},"y":{"field":"c","type":"quantitative","scale":{"domain":[0,250],"nice":false},"axis":{"values":[0,250],"title":null}},"y2":{"datum":0}}},
{"width":150,"height":61,"data":{"values":[]},"mark":{"type":"point"},"encoding":{}},
{"width":150,"height":61,"transform":[{"filter":"datum.p=='b3p'"}],"mark":{"type":"rect","color":"#141414","stroke":"#141414","strokeWidth":1},"encoding":{"x":{"field":"lo","type":"quantitative","scale":{"domain":[0,90],"nice":false},"axis":{"values":[0,30,60,90],"title":null}},"x2":{"field":"hi"},"y":{"field":"c","type":"quantitative","scale":{"domain":[0,500],"nice":false},"axis":{"values":[0,500],"title":null}},"y2":{"datum":0}}},
{"width":150,"height":61,"transform":[{"filter":"datum.p=='b3t'"}],"mark":{"type":"rect","color":"#141414","stroke":"#141414","strokeWidth":1},"encoding":{"x":{"field":"lo","type":"quantitative","scale":{"domain":[0,90],"nice":false},"axis":{"values":[0,30,60,90],"title":null}},"x2":{"field":"hi"},"y":{"field":"c","type":"quantitative","scale":{"domain":[0,50],"nice":false},"axis":{"values":[0,50],"title":null}},"y2":{"datum":0}}},
{"width":150,"height":61,"transform":[{"filter":"datum.p=='b4p'"}],"mark":{"type":"rect","color":"#141414","stroke":"#141414","strokeWidth":1},"encoding":{"x":{"field":"lo","type":"quantitative","scale":{"domain":[0,90],"nice":false},"axis":{"values":[0,30,60,90],"title":null}},"x2":{"field":"hi"},"y":{"field":"c","type":"quantitative","scale":{"domain":[0,750],"nice":false},"axis":{"values":[0,750],"title":null}},"y2":{"datum":0}}},
{"width":150,"height":61,"transform":[{"filter":"datum.p=='b4t'"}],"mark":{"type":"rect","color":"#141414","stroke":"#141414","strokeWidth":1},"encoding":{"x":{"field":"lo","type":"quantitative","scale":{"domain":[0,90],"nice":false},"axis":{"values":[0,30,60,90],"title":null}},"x2":{"field":"hi"},"y":{"field":"c","type":"quantitative","scale":{"domain":[0,100],"nice":false},"axis":{"values":[0,100],"title":null}},"y2":{"datum":0}}},
{"width":150,"height":61,"transform":[{"filter":"datum.p=='b5p'"}],"mark":{"type":"rect","color":"#141414","stroke":"#141414","strokeWidth":1},"encoding":{"x":{"field":"lo","type":"quantitative","scale":{"domain":[0,90],"nice":false},"axis":{"values":[0,30,60,90],"title":null}},"x2":{"field":"hi"},"y":{"field":"c","type":"quantitative","scale":{"domain":[0,750],"nice":false},"axis":{"values":[0,750],"title":null}},"y2":{"datum":0}}},
{"width":150,"height":61,"transform":[{"filter":"datum.p=='b5t'"}],"mark":{"type":"rect","color":"#141414","stroke":"#141414","strokeWidth":1},"encoding":{"x":{"field":"lo","type":"quantitative","scale":{"domain":[0,90],"nice":false},"axis":{"values":[0,30,60,90],"title":null}},"x2":{"field":"hi"},"y":{"field":"c","type":"quantitative","scale":{"domain":[0,150],"nice":false},"axis":{"values":[0,150],"title":null}},"y2":{"datum":0}}},
{"width":150,"height":61,"transform":[{"filter":"datum.p=='b6p'"}],"mark":{"type":"rect","color":"#141414","stroke":"#141414","strokeWidth":1},"encoding":{"x":{"field":"lo","type":"quantitative","scale":{"domain":[0,90],"nice":false},"axis":{"values":[0,30,60,90],"title":null}},"x2":{"field":"hi"},"y":{"field":"c","type":"quantitative","scale":{"domain":[0,500],"nice":false},"axis":{"values":[0,500],"title":null}},"y2":{"datum":0}}},
{"width":150,"height":61,"transform":[{"filter":"datum.p=='b6t'"}],"mark":{"type":"rect","color":"#141414","stroke":"#141414","strokeWidth":1},"encoding":{"x":{"field":"lo","type":"quantitative","scale":{"domain":[0,90],"nice":false},"axis":{"values":[0,30,60,90],"title":null}},"x2":{"field":"hi"},"y":{"field":"c","type":"quantitative","scale":{"domain":[0,150],"nice":false},"axis":{"values":[0,150],"title":null}},"y2":{"datum":0}}},
{"width":150,"height":61,"transform":[{"filter":"datum.p=='b7p'"}],"mark":{"type":"rect","color":"#141414","stroke":"#141414","strokeWidth":1},"encoding":{"x":{"field":"lo","type":"quantitative","scale":{"domain":[0,90],"nice":false},"axis":{"values":[0,30,60,90],"title":null}},"x2":{"field":"hi"},"y":{"field":"c","type":"quantitative","scale":{"domain":[0,500],"nice":false},"axis":{"values":[0,500],"title":null}},"y2":{"datum":0}}},
{"width":150,"height":61,"transform":[{"filter":"datum.p=='b7t'"}],"mark":{"type":"rect","color":"#141414","stroke":"#141414","strokeWidth":1},"encoding":{"x":{"field":"lo","type":"quantitative","scale":{"domain":[0,90],"nice":false},"axis":{"values":[0,30,60,90],"title":null}},"x2":{"field":"hi"},"y":{"field":"c","type":"quantitative","scale":{"domain":[0,75],"nice":false},"axis":{"values":[0,75],"title":null}},"y2":{"datum":0}}},
{"width":150,"height":61,"transform":[{"filter":"datum.p=='b8p'"}],"mark":{"type":"rect","color":"#141414","stroke":"#141414","strokeWidth":1},"encoding":{"x":{"field":"lo","type":"quantitative","scale":{"domain":[0,90],"nice":false},"axis":{"values":[0,30,60,90],"title":null}},"x2":{"field":"hi"},"y":{"field":"c","type":"quantitative","scale":{"domain":[0,750],"nice":false},"axis":{"values":[0,750],"title":null}},"y2":{"datum":0}}},
{"width":150,"height":61,"transform":[{"filter":"datum.p=='b8t'"}],"mark":{"type":"rect","color":"#141414","stroke":"#141414","strokeWidth":1},"encoding":{"x":{"field":"lo","type":"quantitative","scale":{"domain":[0,90],"nice":false},"axis":{"values":[0,30,60,90],"title":null}},"x2":{"field":"hi"},"y":{"field":"c","type":"quantitative","scale":{"domain":[0,75],"nice":false},"axis":{"values":[0,75],"title":null}},"y2":{"datum":0}}},
{"width":150,"height":61,"transform":[{"filter":"datum.p=='b9p'"}],"mark":{"type":"rect","color":"#141414","stroke":"#141414","strokeWidth":1},"encoding":{"x":{"field":"lo","type":"quantitative","scale":{"domain":[0,90],"nice":false},"axis":{"values":[0,30,60,90],"title":"pairs"}},"x2":{"field":"hi"},"y":{"field":"c","type":"quantitative","scale":{"domain":[0,750],"nice":false},"axis":{"values":[0,750],"title":null}},"y2":{"datum":0}}},
{"width":150,"height":61,"transform":[{"filter":"datum.p=='b9t'"}],"mark":{"type":"rect","color":"#141414","stroke":"#141414","strokeWidth":1},"encoding":{"x":{"field":"lo","type":"quantitative","scale":{"domain":[0,90],"nice":false},"axis":{"values":[0,30,60,90],"title":"triplets"}},"x2":{"field":"hi"},"y":{"field":"c","type":"quantitative","scale":{"domain":[0,75],"nice":false},"axis":{"values":[0,75],"title":null}},"y2":{"datum":0}}}
]}
]
}
